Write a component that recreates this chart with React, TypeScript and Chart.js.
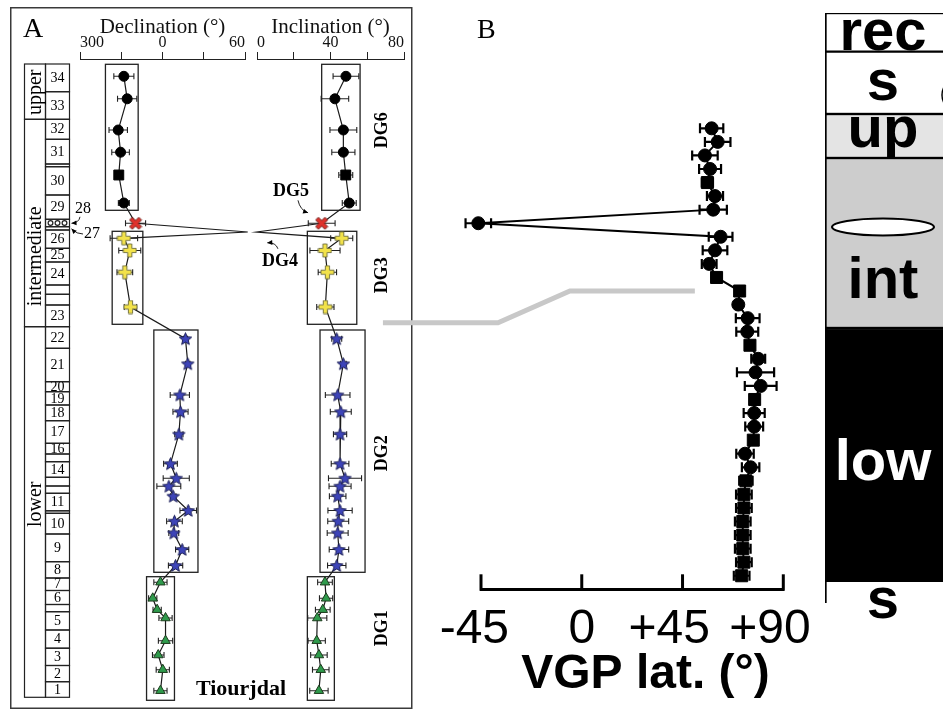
import React, { useEffect, useRef } from 'react';
import { Chart, registerables } from 'chart.js';

Chart.register(...registerables);

const SERIF = '"Liberation Serif", "Times New Roman", Times, serif';
const SANS = '"Liberation Sans", Arial, Helvetica, sans-serif';

/* ===== Panel A – Tiourjdal section, sample directions (listed top -> bottom) ===== */
const sampleGroup = [
  'DG6', 'DG6', 'DG6', 'DG6', 'DG6', 'DG6', 'DG5', 'DG4', 'DG3', 'DG3', 'DG3', 'DG3',
  'DG2', 'DG2', 'DG2', 'DG2', 'DG2', 'DG2', 'DG2', 'DG2', 'DG2', 'DG2', 'DG2', 'DG2', 'DG2', 'DG2',
  'DG1', 'DG1', 'DG1', 'DG1', 'DG1', 'DG1', 'DG1', 'DG1',
];
// stratigraphic height (m above the base of the logged column)
const sampleHeight = [
  62.1, 59.85, 56.73, 54.51, 52.23, 49.43, 47.4, 46.53, 45.9, 44.68, 42.51, 39.03,
  35.86, 33.35, 30.23, 28.55, 26.31, 23.36, 21.91, 21.11, 20.11, 18.68, 17.61, 16.43, 14.78, 13.18,
  11.51, 9.9, 8.76, 7.93, 5.66, 4.23, 2.76, 0.66,
];
// declination in degrees (negative = west of north, -60 = 300°); DG4 lies off-scale
const declination = [
  -28.1, -25.7, -32.2, -30.5, -31.8, -28.1, -19.6, 62, -28.1, -23.8, -27.4, -23.3,
  16.7, 18.4, 12.6, 13.1, 11.9, 5.8, 10.0, 4.6, 7.8, 18.7, 8.7, 8.2, 14.3, 9.5,
  -1.5, -7.1, -3.9, 2.2, 2.2, -3.1, 0.2, -1.5,
];
const declinationErr = [
  7.3, 7.0, 6.7, 6.4, 0, 4.0, 7.3, 0, 10, 8, 5.7, 4.5,
  1.5, 1.5, 7.0, 5.5, 3.0, 5.0, 9.5, 8.7, 2.0, 6.0, 5.7, 3.6, 4.8, 5.2,
  4.8, 3.0, 3.0, 4.8, 5.2, 4.2, 4.8, 4.8,
];
const inclination = [
  48.4, 42.4, 47.0, 47.0, 48.3, 50.2, 35.2, -0.2, 46.1, 37.0, 38.3, 37.2,
  43.4, 47.0, 43.9, 45.6, 45.2, 45.2, 47.9, 45.2, 43.9, 45.2, 44.2, 43.9, 44.6, 43.4,
  37.0, 37.6, 35.8, 32.8, 32.5, 33.7, 34.7, 33.7,
];
const inclinationErr = [
  7.0, 7.5, 7.3, 6.3, 3.8, 3.8, 7.3, 0, 6.0, 8.2, 5.0, 4.7,
  2.7, 1.5, 6.7, 5.7, 3.6, 4.8, 9.0, 6.0, 4.5, 6.6, 5.7, 5.7, 5.3, 5.0,
  4.0, 3.6, 4.0, 5.2, 4.7, 4.5, 4.5, 5.0,
];
const squareSamplesA = [5];

// direction groups (boxes) in panel A
const dgNames = ['DG6', 'DG3', 'DG2', 'DG1'];
const decBoxMin = [-41.5, -36.6, -6.3, -11.6];
const decBoxMax = [-17.7, -14.3, 25.8, 8.7];
const incBoxMin = [35.2, 27.4, 34.3, 27.4];
const incBoxMax = [56.1, 54.3, 58.8, 42.1];
const boxBase = [48.7, 37.3, 12.5, -0.3];
const boxTop = [63.3, 46.6, 36.73, 12.06];

// lithological units of the column (boundaries in m, label per interval)
const unitBounds = [
  0, 1.56, 3.18, 4.91, 6.73, 8.56, 9.28, 10.68, 11.93, 13.56, 16.33, 18.4, 18.65, 20.4, 21.13,
  22.0, 23.56, 24.33, 25.4, 27.66, 29.23, 30.56, 31.56, 34.9, 37.06, 39.23, 40.3, 41.23, 43.53,
  44.9, 46.73, 47.06, 47.8, 50.23, 53.06, 53.33, 55.8, 57.8, 60.56, 63.33,
];
const unitLabels = [
  '1', '2', '3', '4', '5', '', '6', '7', '8', '9', '10', '', '11', '', '', '14', '', '16', '17',
  '18', '19', '20', '21', '22', '23', '', '', '24', '25', '26', '', 'ooo', '29', '30', '', '31',
  '32', '33', '34',
];
const faciesNames = ['lower', 'intermediate', 'upper'];
const faciesBounds = [0, 37.06, 57.8, 63.33];

/* ===== Panel B – VGP latitude (same samples, top -> bottom) ===== */
const vgpLevel = [
  34, 33, 32, 31, 30, 29, 28, 27, 26, 25, 24, 23, 22, 21, 20, 19, 18, 17, 16, 15, 14, 13, 12,
  11, 10, 9, 8, 7, 6, 5, 4, 3, 2, 1,
];
const vgpLatitude = [
  58.0, 60.7, 55.0, 57.3, 56.1, 59.5, 58.7, -46.2, 62.0, 59.5, 56.9, 60.2,
  70.5, 69.9, 74.1, 73.9, 75.1, 78.8, 77.6, 79.9, 77.2, 77.0, 77.0, 76.6, 72.9, 75.4,
  73.3, 72.4, 72.4, 71.9, 71.9, 71.9, 72.4, 71.4,
];
const vgpErr = [
  5.2, 5.7, 5.7, 4.9, 2.5, 3.6, 6.1, 5.7, 5.3, 5.5, 3.3, 2.2,
  1.0, 1.0, 5.3, 4.9, 1.0, 3.1, 8.3, 7.1, 1.0, 4.7, 4.0, 1.8, 3.9, 3.9,
  3.0, 3.5, 3.5, 3.5, 3.5, 3.5, 3.5, 3.5,
];
const squareSamplesB = [5, 12, 13, 17, 21, 24, 27, 28, 29, 30, 31, 32, 33, 34];
const vgpTickValues = [-45, 0, 45, 90];
const vgpTickLabels = ['-45', '0', '+45', '+90'];
// facies-boundary connector (VGP lat, VGP level)
const connectorLat = [-88.8, -37.4, -5.3, 50.5];
const connectorLevel = [19.66, 19.66, 22, 22];

/* ===== Right log (depth units from top) ===== */
const logUnits = ['rec', 's', 'up', 'int', 'low', 's'];
const logTop = [0, 3.87, 10.1, 14.5, 31.5, 56.87];
const logBase = [3.87, 10.1, 14.5, 31.5, 56.87, 59];

/* ----- layout / style constants (not data) ----- */
const FACIES_LABEL_AT = [19.3, 44.1, 60.5];
const DG_LABEL_AT = [56.7, 42.2, 24.4, 6.9];
const LOG_FILL = ['#ffffff', '#ffffff', '#e4e4e4', '#cdcdcd', '#000000', '#ffffff'];
const LOG_TEXT = ['#000', '#000', '#000', '#000', '#fff', '#000'];
const LOG_BASELINE_AT = [3.7, 8.7, 13.4, 28.5, 46.7, 60.5];

function makeCanvas(size: number, draw: (g: CanvasRenderingContext2D, c: number) => void) {
  const cv = document.createElement('canvas');
  cv.width = size;
  cv.height = size;
  const g = cv.getContext('2d') as CanvasRenderingContext2D;
  draw(g, size / 2);
  return cv;
}
function plusPath(g: CanvasRenderingContext2D, c: number, L: number, w: number) {
  g.beginPath();
  g.moveTo(c - w, c - L); g.lineTo(c + w, c - L); g.lineTo(c + w, c - w); g.lineTo(c + L, c - w);
  g.lineTo(c + L, c + w); g.lineTo(c + w, c + w); g.lineTo(c + w, c + L); g.lineTo(c - w, c + L);
  g.lineTo(c - w, c + w); g.lineTo(c - L, c + w); g.lineTo(c - L, c - w); g.lineTo(c - w, c - w);
  g.closePath();
}

function arrowCurve(ctx: CanvasRenderingContext2D, x0: number, y0: number, cx: number, cy: number, x1: number, y1: number) {
  ctx.beginPath();
  ctx.moveTo(x0, y0);
  ctx.quadraticCurveTo(cx, cy, x1, y1);
  ctx.stroke();
  const a = Math.atan2(y1 - cy, x1 - cx);
  const L = 5, W = 2.4;
  ctx.beginPath();
  ctx.moveTo(x1, y1);
  ctx.lineTo(x1 - L * Math.cos(a) + W * Math.sin(a), y1 - L * Math.sin(a) - W * Math.cos(a));
  ctx.lineTo(x1 - L * Math.cos(a) - W * Math.sin(a), y1 - L * Math.sin(a) + W * Math.cos(a));
  ctx.closePath();
  ctx.fill();
}

function errorBarPlugin(id: string, values: number[], errs: number[], levels: number[], lineIndex: number, cap: number, lw: number, color: string) {
  return {
    id,
    afterDatasetDraw(chart: any, args: any) {
      if (args.index !== lineIndex) return;
      const { ctx } = chart;
      const xs = chart.scales.x, ys = chart.scales.y;
      ctx.save();
      ctx.strokeStyle = color;
      ctx.lineWidth = lw;
      for (let i = 0; i < values.length; i++) {
        if (!errs[i]) continue;
        const y = ys.getPixelForValue(levels[i]);
        const x0 = xs.getPixelForValue(values[i] - errs[i]);
        const x1 = xs.getPixelForValue(values[i] + errs[i]);
        ctx.beginPath();
        ctx.moveTo(x0, y); ctx.lineTo(x1, y);
        ctx.moveTo(x0, y - cap); ctx.lineTo(x0, y + cap);
        ctx.moveTo(x1, y - cap); ctx.lineTo(x1, y + cap);
        ctx.stroke();
      }
      ctx.restore();
    },
  };
}

const decPanelPlugin = {
  id: 'decPanel',
  beforeDatasetsDraw(chart: any) {
    const { ctx } = chart;
    const xs = chart.scales.x, ys = chart.scales.y;
    const Y = (v: number) => ys.getPixelForValue(v);
    ctx.save();
    // panel frame
    ctx.strokeStyle = '#3a3a3a';
    ctx.lineWidth = 1.5;
    ctx.strokeRect(10.75, 7.75, 401, 700.5);
    ctx.fillStyle = '#000';
    ctx.font = `28px ${SERIF}`;
    ctx.textAlign = 'left';
    ctx.textBaseline = 'alphabetic';
    ctx.fillText('A', 23, 37);
    // stratigraphic column
    const xL = 24.5, xM = 45.5, xR = 69.5;
    ctx.strokeStyle = '#222';
    ctx.lineWidth = 1.2;
    for (let i = 0; i < unitLabels.length; i++) {
      const top = Y(unitBounds[i + 1]), bot = Y(unitBounds[i]);
      ctx.strokeRect(xM, top, xR - xM, bot - top);
      const lab = unitLabels[i];
      const cy = (top + bot) / 2;
      if (lab === 'ooo') {
        for (const cx of [50.5, 57.5, 64.5]) {
          ctx.beginPath();
          ctx.arc(cx, cy, 2.4, 0, Math.PI * 2);
          ctx.stroke();
        }
      } else if (lab) {
        ctx.font = `14px ${SERIF}`;
        ctx.textAlign = 'center';
        ctx.textBaseline = 'middle';
        ctx.fillText(lab, (xM + xR) / 2, cy + 0.5);
      }
    }
    for (let i = 0; i < faciesNames.length; i++) {
      const top = Y(faciesBounds[i + 1]), bot = Y(faciesBounds[i]);
      ctx.strokeRect(xL, top, xM - xL, bot - top);
      ctx.save();
      ctx.translate((xL + xM) / 2 + 1, Y(FACIES_LABEL_AT[i]));
      ctx.rotate(-Math.PI / 2);
      ctx.font = `20px ${SERIF}`;
      ctx.textAlign = 'center';
      ctx.textBaseline = 'middle';
      ctx.fillText(faciesNames[i], 0, 0);
      ctx.restore();
    }
    // unit 28 / 27 call-outs
    ctx.font = `16px ${SERIF}`;
    ctx.textAlign = 'center';
    ctx.textBaseline = 'middle';
    ctx.fillText('28', 83, Y(48.83));
    ctx.fillText('27', 92, Y(46.33));
    ctx.lineWidth = 1;
    arrowCurve(ctx, 80, Y(48.05), 79, Y(47.45), 71.5, Y(47.4));
    arrowCurve(ctx, 83, Y(46.33), 77, Y(46.3), 71.5, Y(46.85));
    // direction-group boxes
    ctx.strokeStyle = '#222';
    ctx.lineWidth = 1.3;
    for (let i = 0; i < dgNames.length; i++) {
      const x0 = xs.getPixelForValue(decBoxMin[i]), x1 = xs.getPixelForValue(decBoxMax[i]);
      const y0 = Y(boxTop[i]), y1 = Y(boxBase[i]);
      ctx.strokeRect(x0, y0, x1 - x0, y1 - y0);
    }
    ctx.font = `bold 22px ${SERIF}`;
    ctx.fillStyle = '#000';
    ctx.textAlign = 'center';
    ctx.textBaseline = 'middle';
    ctx.fillText('Tiourjdal', 241, Y(0.8));
    ctx.restore();
  },
};

const incPanelPlugin = {
  id: 'incPanel',
  beforeDatasetsDraw(chart: any) {
    const { ctx } = chart;
    const xs = chart.scales.x, ys = chart.scales.y;
    const Y = (v: number) => ys.getPixelForValue(v);
    const X = (v: number) => xs.getPixelForValue(v);
    ctx.save();
    ctx.strokeStyle = '#222';
    ctx.lineWidth = 1.3;
    for (let i = 0; i < dgNames.length; i++) {
      const x0 = X(incBoxMin[i]), x1 = X(incBoxMax[i]);
      const y0 = Y(boxTop[i]), y1 = Y(boxBase[i]);
      ctx.strokeRect(x0, y0, x1 - x0, y1 - y0);
      ctx.save();
      ctx.translate(382, Y(DG_LABEL_AT[i]));
      ctx.rotate(-Math.PI / 2);
      ctx.fillStyle = '#000';
      ctx.font = `bold 18px ${SERIF}`;
      ctx.textAlign = 'center';
      ctx.textBaseline = 'middle';
      ctx.fillText(dgNames[i], 0, 0);
      ctx.restore();
    }
    ctx.fillStyle = '#000';
    ctx.font = `bold 18px ${SERIF}`;
    ctx.textAlign = 'center';
    ctx.textBaseline = 'middle';
    ctx.fillText('DG5', X(18.5), Y(50.56));
    ctx.fillText('DG4', X(12.5), Y(43.56));
    ctx.lineWidth = 1;
    arrowCurve(ctx, X(22.3), Y(49.7), X(23.5), Y(48.7), X(27.8), Y(48.45));
    arrowCurve(ctx, X(11.4), Y(44.85), X(10.2), Y(45.5), X(5.6), Y(45.45));
    ctx.restore();
  },
};

const vgpPanelPlugin = {
  id: 'vgpPanel',
  afterDatasetsDraw(chart: any) {
    const { ctx, chartArea } = chart;
    const xs = chart.scales.x;
    ctx.save();
    ctx.strokeStyle = '#000';
    ctx.lineWidth = 3;
    for (const v of vgpTickValues) {
      const x = xs.getPixelForValue(v);
      ctx.beginPath();
      ctx.moveTo(x, chartArea.bottom + 1.5);
      ctx.lineTo(x, chartArea.bottom - 15);
      ctx.stroke();
    }
    ctx.fillStyle = '#000';
    ctx.font = `28px ${SERIF}`;
    ctx.textAlign = 'left';
    ctx.textBaseline = 'alphabetic';
    ctx.fillText('B', 477 - 375, 38);
    ctx.restore();
  },
};

const logPlugin = {
  id: 'logLabels',
  afterDatasetsDraw(chart: any) {
    const { ctx, chartArea } = chart;
    const ys = chart.scales.y;
    const cx = chartArea.left + 58;
    ctx.save();
    // lens inside the intermediate unit
    ctx.beginPath();
    ctx.ellipse(cx, ys.getPixelForValue(21.4), 51, 8.5, 0, 0, Math.PI * 2);
    ctx.fillStyle = '#fff';
    ctx.fill();
    ctx.strokeStyle = '#000';
    ctx.lineWidth = 2;
    ctx.stroke();
    // lens cut by the right edge (s unit)
    ctx.beginPath();
    ctx.ellipse(chartArea.left + 136, ys.getPixelForValue(8.2), 19, 18, 0, 0, Math.PI * 2);
    ctx.lineWidth = 1.5;
    ctx.stroke();
    ctx.font = `bold 58px ${SANS}`;
    ctx.textAlign = 'center';
    ctx.textBaseline = 'alphabetic';
    for (let i = 0; i < logUnits.length; i++) {
      ctx.fillStyle = LOG_TEXT[i];
      ctx.fillText(logUnits[i], cx, ys.getPixelForValue(LOG_BASELINE_AT[i]));
    }
    ctx.restore();
  },
};

export default function App() {
  const decRef = useRef<HTMLCanvasElement>(null);
  const incRef = useRef<HTMLCanvasElement>(null);
  const vgpRef = useRef<HTMLCanvasElement>(null);
  const logRef = useRef<HTMLCanvasElement>(null);

  useEffect(() => {
    const charts: Chart[] = [];
    const star = makeCanvas(15, (g, c) => {
      g.beginPath();
      const R = c - 1, r = R * 0.45;
      for (let i = 0; i < 10; i++) {
        const a = -Math.PI / 2 + (i * Math.PI) / 5;
        const rr = i % 2 === 0 ? R : r;
        g.lineTo(c + rr * Math.cos(a), c + rr * Math.sin(a) + 0.5);
      }
      g.closePath();
      g.fillStyle = '#3d44b8';
      g.fill();
      g.strokeStyle = '#1c1f55';
      g.lineWidth = 1;
      g.stroke();
    });
    const plus = makeCanvas(15, (g, c) => {
      plusPath(g, c, 6.5, 2.1);
      g.fillStyle = '#f2e24a';
      g.fill();
      g.strokeStyle = '#6b6b3a';
      g.lineWidth = 0.9;
      g.stroke();
    });
    const xMark = makeCanvas(14, (g, c) => {
      g.translate(c, c);
      g.rotate(Math.PI / 4);
      g.translate(-c, -c);
      plusPath(g, c, 6.6, 1.9);
      g.fillStyle = '#e0312b';
      g.fill();
      g.strokeStyle = '#6a1a16';
      g.lineWidth = 0.9;
      g.stroke();
    });

    const styleA = (i: number): any => {
      const g = sampleGroup[i];
      if (g === 'DG6') return squareSamplesA.includes(i + 1) ? 'rect' : 'circle';
      if (g === 'DG5') return xMark;
      if (g === 'DG3') return plus;
      if (g === 'DG2') return star;
      if (g === 'DG1') return 'triangle';
      return 'circle';
    };
    const radiusA = (i: number) => {
      const g = sampleGroup[i];
      if (g === 'DG4') return 0;
      if (g === 'DG6') return squareSamplesA.includes(i + 1) ? 7 : 5;
      if (g === 'DG1') return 5.5;
      return 6;
    };

    const makeDirChart = (
      canvas: HTMLCanvasElement,
      values: number[],
      errs: number[],
      xOpts: any,
      padLeft: number,
      padRight: number,
      panelPlugin: any,
      id: string,
    ) => {
      const pts = sampleHeight.map((h, i) => ({ x: values[i], y: h }));
      return new Chart(canvas, {
        type: 'scatter',
        data: {
          datasets: [
            {
              label: 'samples',
              data: pts,
              order: 0,
              clip: false as any,
              showLine: false,
              pointStyle: (c: any) => styleA(c.dataIndex),
              pointRadius: (c: any) => radiusA(c.dataIndex),
              pointBackgroundColor: (c: any) => (sampleGroup[c.dataIndex] === 'DG1' ? '#2f9a4c' : '#000'),
              pointBorderColor: (c: any) => (sampleGroup[c.dataIndex] === 'DG1' ? '#1d3b1d' : '#000'),
              pointBorderWidth: 1,
            } as any,
            {
              label: 'path',
              data: pts,
              order: 1,
              clip: false as any,
              showLine: true,
              borderColor: '#1a1a1a',
              borderWidth: 1.2,
              pointRadius: 0,
              tension: 0,
            } as any,
          ],
        },
        options: {
          animation: false,
          responsive: false,
          devicePixelRatio: 1,
          events: [],
          layout: { padding: { left: padLeft, right: padRight, top: 14, bottom: 17.7 } },
          plugins: { legend: { display: false }, tooltip: { enabled: false } },
          scales: {
            x: xOpts,
            y: { type: 'linear', display: false, min: 0, max: 63.83 },
          },
        },
        plugins: [panelPlugin, errorBarPlugin(id, values, errs, sampleHeight, 1, 3, 1.1, '#222')],
      } as any);
    };

    const topAxis = (min: number, max: number, step: number, title: string, label: (v: number) => string) => ({
      type: 'linear',
      position: 'top',
      min,
      max,
      ticks: {
        stepSize: step,
        align: 'inner',
        padding: 0,
        autoSkip: false,
        maxRotation: 0,
        color: '#111',
        font: { family: SERIF, size: 16 },
        callback: (v: any) => label(Number(v)),
      },
      grid: { drawOnChartArea: false, drawTicks: true, tickLength: 7, color: '#222', lineWidth: 1 },
      border: { display: true, color: '#222', width: 1 },
      title: { display: true, text: title, color: '#111', font: { family: SERIF, size: 21 }, padding: { top: 1, bottom: 0 } },
      afterFit: (s: any) => {
        s.height = 45;
      },
    });

    if (decRef.current) {
      charts.push(
        makeDirChart(
          decRef.current,
          declination,
          declinationErr,
          topAxis(-60, 60, 30, 'Declination (°)', (v) => (v % 60 === 0 ? String((v + 360) % 360) : '')),
          80,
          175,
          decPanelPlugin,
          'decErr',
        ),
      );
    }
    if (incRef.current) {
      charts.push(
        makeDirChart(
          incRef.current,
          inclination,
          inclinationErr,
          topAxis(0, 80, 20, 'Inclination (°)', (v) => (v % 40 === 0 ? String(v) : '')),
          257,
          16,
          incPanelPlugin,
          'incErr',
        ),
      );
    }

    if (vgpRef.current) {
      const pts = vgpLatitude.map((v, i) => ({ x: v, y: vgpLevel[i] }));
      const isSq = (i: number) => squareSamplesB.includes(i + 1);
      charts.push(
        new Chart(vgpRef.current, {
          type: 'scatter',
          data: {
            datasets: [
              {
                label: 'VGP',
                data: pts,
                order: 0,
                clip: false,
                showLine: false,
                pointStyle: (c: any) => (isSq(c.dataIndex) ? 'rect' : 'circle'),
                pointRadius: (c: any) => (isSq(c.dataIndex) ? 8.5 : 6.5),
                pointBackgroundColor: '#000',
                pointBorderColor: '#000',
                pointBorderWidth: 1,
              },
              {
                label: 'VGP path',
                data: pts,
                order: 1,
                clip: false,
                showLine: true,
                borderColor: '#000',
                borderWidth: 2,
                pointRadius: 0,
              },
              {
                label: 'facies boundary',
                data: connectorLat.map((v, i) => ({ x: v, y: connectorLevel[i] })),
                order: 2,
                clip: false,
                showLine: true,
                borderColor: '#c8c8c8',
                borderWidth: 5,
                pointRadius: 0,
              },
            ],
          } as any,
          options: {
            animation: false,
            responsive: false,
            devicePixelRatio: 1,
            events: [],
            layout: { padding: { left: 106, right: 159.7, top: 101.2, bottom: 0 } },
            plugins: { legend: { display: false }, tooltip: { enabled: false } },
            scales: {
              x: {
                type: 'linear',
                position: 'bottom',
                min: -45,
                max: 90,
                ticks: {
                  stepSize: 45,
                  autoSkip: false,
                  maxRotation: 0,
                  padding: 12,
                  color: '#000',
                  font: { family: SANS, size: 48 },
                  callback: (v: any) => {
                    const k = vgpTickValues.indexOf(Number(v));
                    if (k < 0) return '';
                    const lab = vgpTickLabels[k];
                    if (lab.startsWith('+')) return lab + '  ';
                    if (lab.startsWith('-')) return lab + ' ';
                    return lab;
                  },
                },
                grid: { drawOnChartArea: false, drawTicks: false },
                border: { display: true, color: '#000', width: 3 },
                title: {
                  display: true,
                  text: '  VGP lat. (°)',
                  color: '#000',
                  font: { family: SANS, size: 48, weight: 'bold' },
                  padding: { top: 0, bottom: 11 },
                },
                afterFit: (s: any) => {
                  s.height = 125.7;
                },
              },
              y: { type: 'linear', display: false, min: 0, max: 36 },
            },
          } as any,
          plugins: [vgpPanelPlugin, errorBarPlugin('vgpErr', vgpLatitude, vgpErr, vgpLevel, 1, 5, 2.2, '#000')],
        }),
      );
    }

    if (logRef.current) {
      const last = logUnits.length - 1;
      charts.push(
        new Chart(logRef.current, {
          type: 'bar',
          data: {
            labels: ['log'],
            datasets: logUnits.map((u, i) => ({
              label: u,
              data: [[logTop[i], logBase[i]]],
              backgroundColor: LOG_FILL[i],
              borderColor: '#000',
              borderWidth: i === last ? { left: 2, top: 0, right: 0, bottom: 0 } : { left: 2, top: 1.5, right: 0, bottom: 1.5 },
              borderSkipped: false,
              grouped: false,
              barPercentage: 1,
              categoryPercentage: 1,
            })),
          } as any,
          options: {
            animation: false,
            responsive: false,
            devicePixelRatio: 1,
            events: [],
            layout: { padding: { left: 0, right: 0, top: 13, bottom: 112 } },
            plugins: { legend: { display: false }, tooltip: { enabled: false } },
            scales: {
              x: { type: 'category', display: false },
              y: { type: 'linear', display: false, reverse: true, min: 0, max: 59 },
            },
          } as any,
          plugins: [logPlugin],
        }),
      );
    }

    return () => {
      charts.forEach((c) => c.destroy());
    };
  }, []);

  const abs: React.CSSProperties = { position: 'absolute', top: 0, display: 'block' };
  return (
    <div style={{ position: 'fixed', left: 0, top: 0, width: 943, height: 715, background: '#fff', overflow: 'hidden' }}>
      <canvas ref={decRef} width={420} height={715} style={{ ...abs, left: 0 }} />
      <canvas ref={incRef} width={420} height={715} style={{ ...abs, left: 0 }} />
      <canvas ref={vgpRef} width={568} height={715} style={{ ...abs, left: 375 }} />
      <canvas ref={logRef} width={118} height={715} style={{ ...abs, left: 825 }} />
    </div>
  );
}
